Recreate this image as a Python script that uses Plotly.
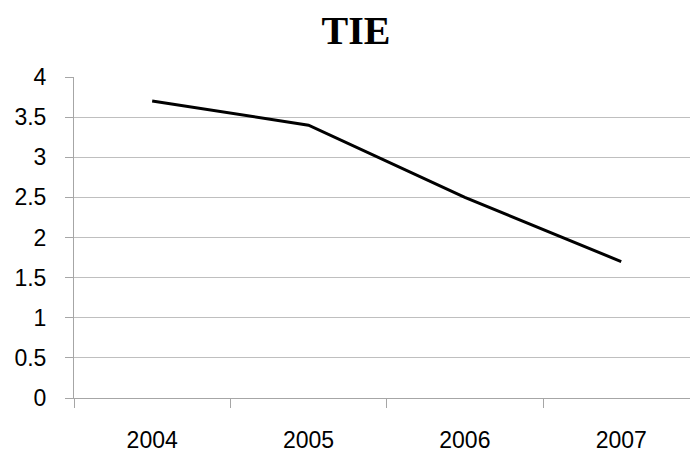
import plotly.graph_objects as go

years = ["2004", "2005", "2006", "2007"]
tie_values = [3.7, 3.4, 2.5, 1.7]
y_ticks = [0, 0.5, 1, 1.5, 2, 2.5, 3, 3.5, 4]
y_tick_labels = ["0", "0.5", "1", "1.5", "2", "2.5", "3", "3.5", "4"]

fig = go.Figure()
fig.add_trace(go.Scatter(
    x=years, y=tie_values, mode="lines",
    line=dict(color="black", width=3),
    showlegend=False, hoverinfo="skip",
))

label_font = dict(family="Liberation Sans, Arial, sans-serif", size=23, color="black")

fig.update_layout(
    width=690, height=456,
    margin=dict(l=74, r=0, t=77, b=58),
    paper_bgcolor="white", plot_bgcolor="white",
    title=dict(
        text="<b>TIE</b>",
        font=dict(family="Liberation Serif, Times New Roman, serif", size=40, color="black"),
        x=356 / 690, xanchor="center", xref="container",
        y=1 - 30 / 456, yanchor="middle", yref="container",
    ),
    xaxis=dict(
        type="category",
        range=[-0.5, 3.44],
        tickson="boundaries",
        ticks="outside", ticklen=9, tickcolor="#A6A6A6", tickwidth=1,
        showgrid=False,
        showline=True, linecolor="#A6A6A6", linewidth=1,
        tickfont=label_font,
        ticklabelstandoff=21,
        fixedrange=True,
    ),
    yaxis=dict(
        range=[0, 4],
        tickvals=y_ticks, ticktext=y_tick_labels,
        ticks="outside", ticklen=8, tickcolor="#A6A6A6", tickwidth=1,
        showgrid=True, gridcolor="#BFBFBF", gridwidth=1,
        zeroline=False,
        showline=True, linecolor="#A6A6A6", linewidth=1,
        tickfont=label_font,
        ticklabelstandoff=14,
        fixedrange=True,
    ),
)

fig.write_html(
    "out.html",
    config={"displayModeBar": False},
    post_script="document.body.style.margin='0';document.body.style.overflow='hidden';",
)
